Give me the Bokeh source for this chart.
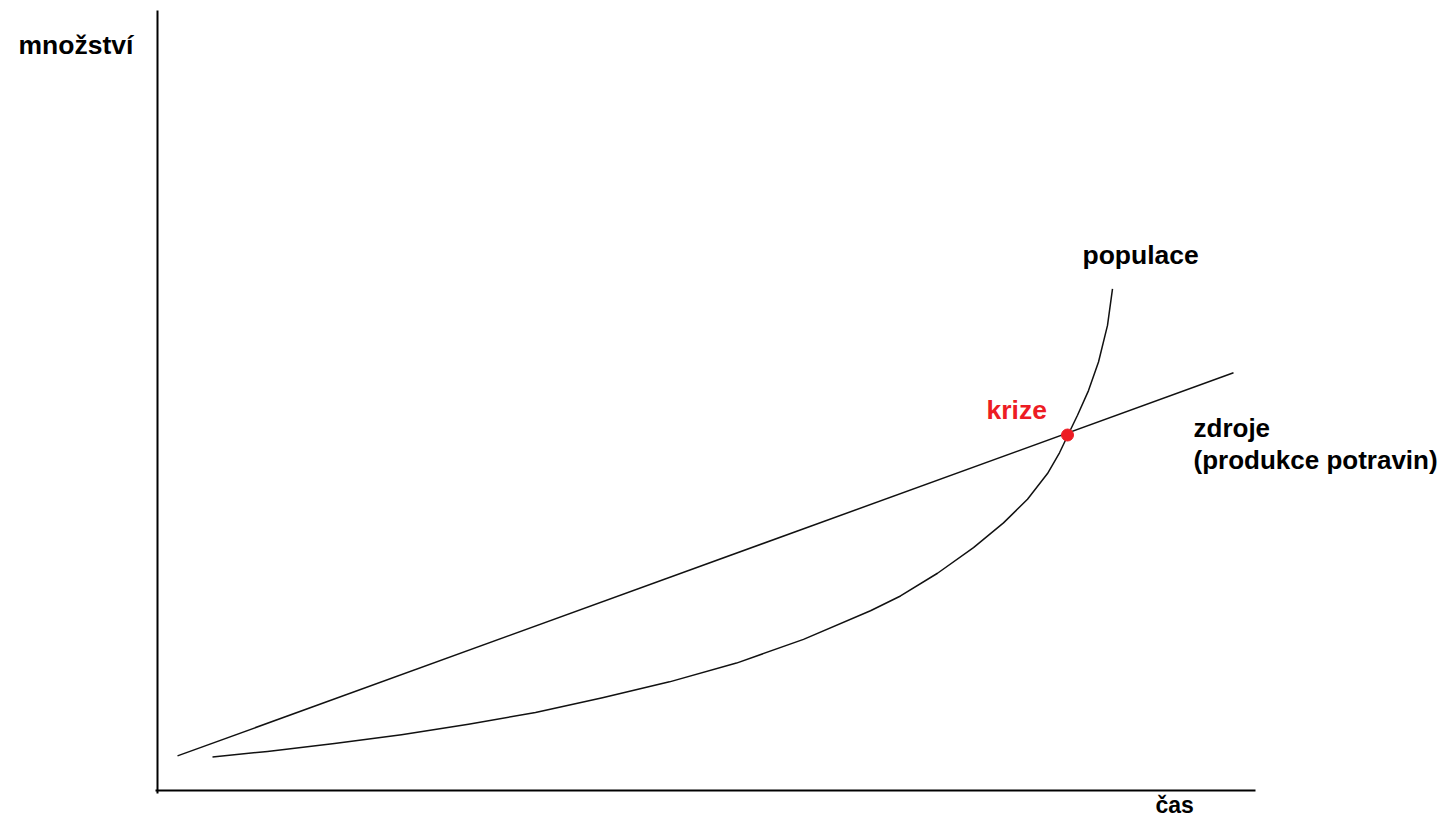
from bokeh.plotting import figure
from bokeh.models import Range1d, Label
from bokeh.embed import file_html
from bokeh.resources import INLINE

# --- data (time units on x, quantity units on y) ---
axis_time_x = [-0.2, 109.8]
axis_time_y = [0.0, 0.0]
axis_qty_x = [0.0, 0.0]
axis_qty_y = [-0.3, 79.0]

zdroje_x = [2.0, 107.6]
zdroje_y = [3.5, 42.3]

populace_x = [5.5, 11.0, 17.7, 24.4, 31.1, 37.8, 44.5, 51.2, 57.9, 64.6,
              71.3, 74.3, 78.0, 81.6, 84.6, 87.0, 89.0, 90.2, 91.0, 92.0,
              93.1, 94.1, 95.0, 95.5]
populace_y = [3.4, 3.95, 4.75, 5.65, 6.7, 7.9, 9.4, 11.0, 12.9, 15.3,
              18.2, 19.7, 22.0, 24.6, 27.1, 29.5, 32.1, 34.2, 35.9, 38.0,
              40.5, 43.4, 47.1, 50.8]

krize_x = [91.0]
krize_y = [36.0]

labels_text = ["množství", "čas", "populace", "zdroje", "(produkce potravin)", "krize"]
labels_x = [-13.9, 99.8, 92.5, 103.6, 103.6, 82.9]
labels_y = [75.5, -1.45, 54.2, 36.7, 33.5, 38.5]
labels_size = ["26.5px", "23px", "26.5px", "26px", "26px", "26.5px"]
labels_color = ["black", "black", "black", "black", "black", "#ed1c24"]

p = figure(width=1439, height=818, output_backend="svg", toolbar_location=None,
           x_axis_type=None, y_axis_type=None, min_border=0,
           x_range=Range1d(-15.7, 128.2), y_range=Range1d(-2.84, 80.01))
p.outline_line_color = None
p.background_fill_color = "white"
p.border_fill_color = "white"

p.line(axis_time_x, axis_time_y, line_color="black", line_width=2)
p.line(axis_qty_x, axis_qty_y, line_color="black", line_width=2)

p.line(zdroje_x, zdroje_y, line_color="#111111", line_width=1.5)
p.line(populace_x, populace_y, line_color="#111111", line_width=1.5,
       line_join="round")

p.scatter(krize_x, krize_y, size=12, color="#ed1c24")

FONT = "Liberation Sans"
for t, x, y, s, c in zip(labels_text, labels_x, labels_y, labels_size, labels_color):
    p.add_layout(Label(x=x, y=y, text=t, text_font=FONT, text_font_size=s,
                       text_font_style="bold", text_color=c,
                       text_baseline="alphabetic", text_align="left"))

open("out.html", "w").write(file_html(p, INLINE))
